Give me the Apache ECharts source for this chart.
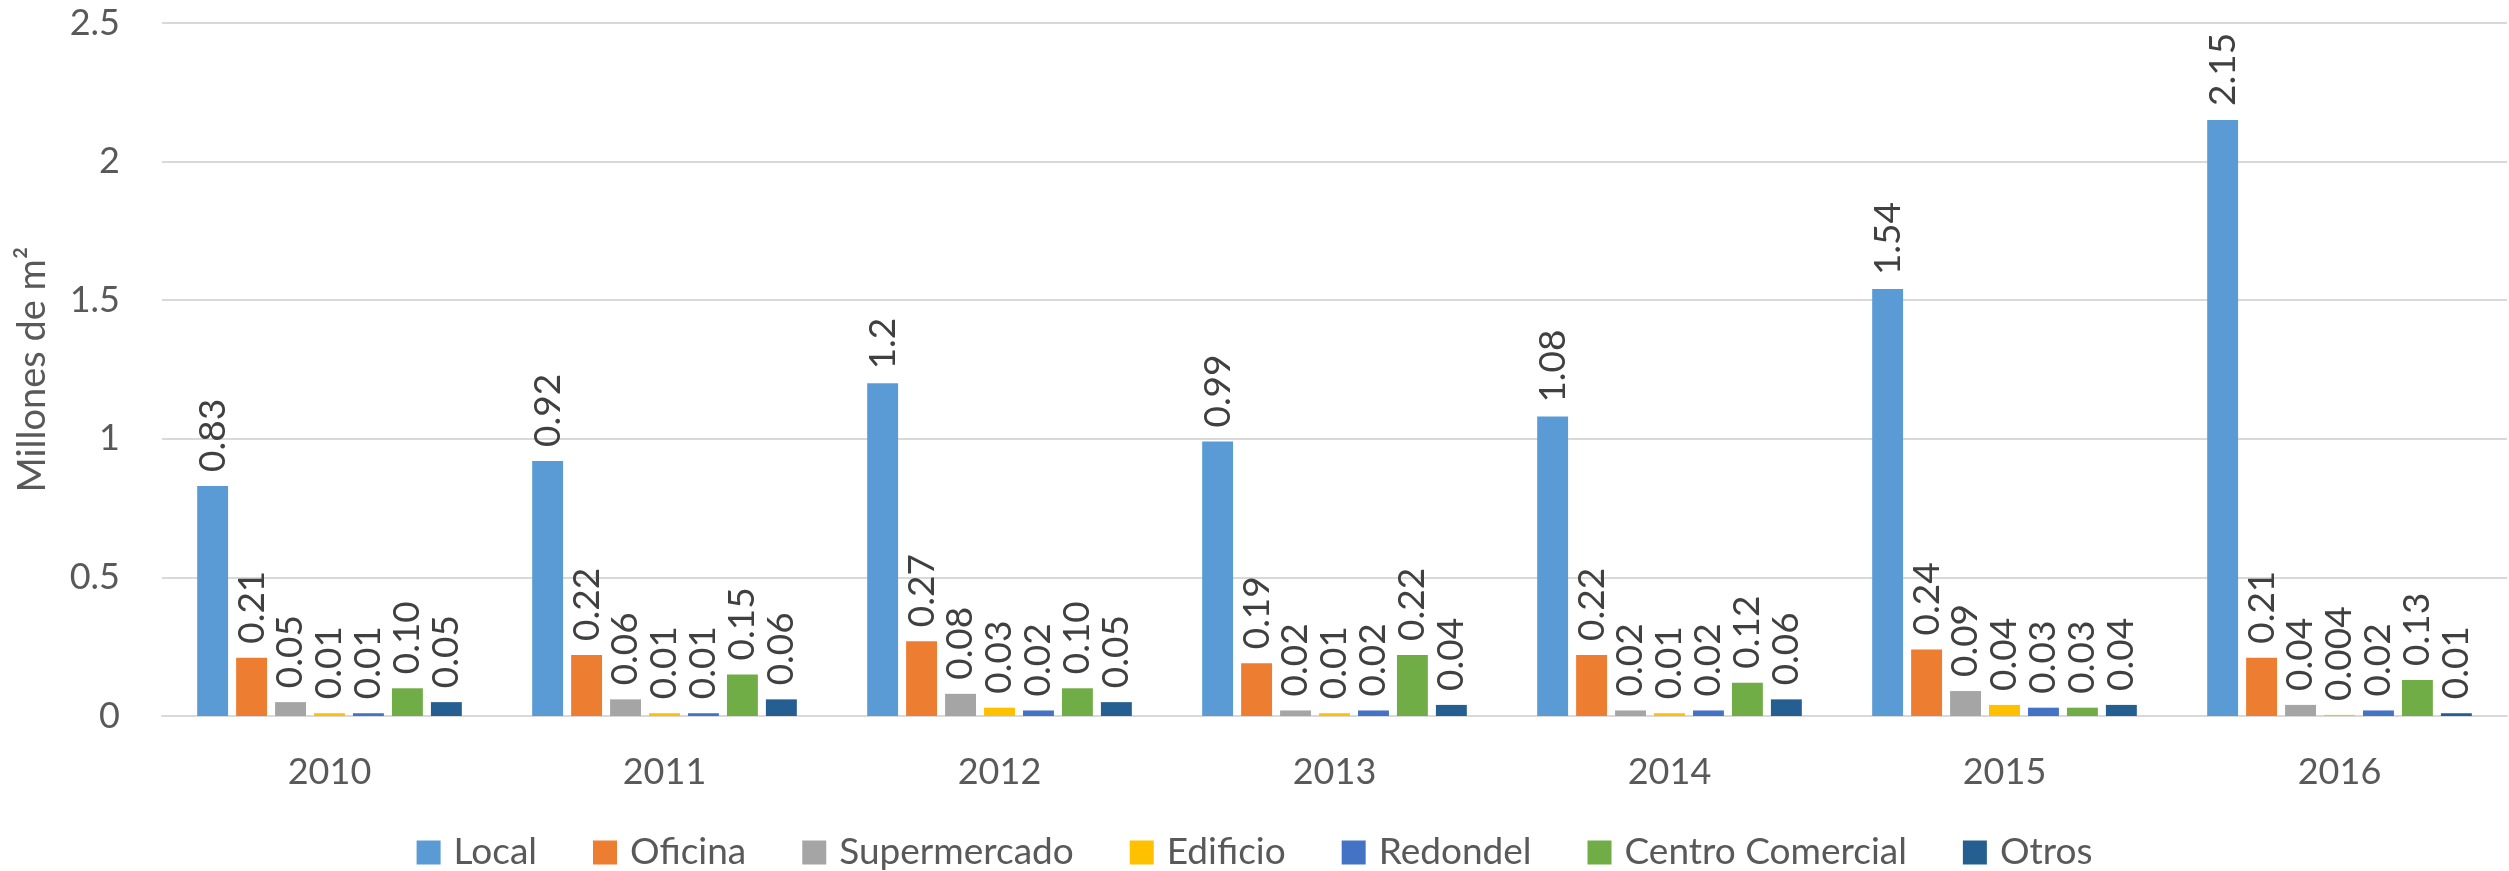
<!DOCTYPE html>
<html>
<head>
<meta charset="utf-8">
<script src="https://cdn.jsdelivr.net/npm/echarts@6/dist/echarts.min.js"></script>
<style>
html,body{margin:0;padding:0;background:#fff;}
#chart{width:2509px;height:871px;}
</style>
</head>
<body>
<div id="chart"></div>
<script>
const years = ['2010','2011','2012','2013','2014','2015','2016'];
const seriesNames = ['Local','Oficina','Supermercado','Edificio','Redondel','Centro Comercial','Otros'];
const local = [0.83, 0.92, 1.2, 0.99, 1.08, 1.54, 2.15];
const oficina = [0.21, 0.22, 0.27, 0.19, 0.22, 0.24, 0.21];
const supermercado = [0.05, 0.06, 0.08, 0.02, 0.02, 0.09, 0.04];
const edificio = [0.01, 0.01, 0.03, 0.01, 0.01, 0.04, 0.004];
const redondel = [0.01, 0.01, 0.02, 0.02, 0.02, 0.03, 0.02];
const centroComercial = [0.10, 0.15, 0.10, 0.22, 0.12, 0.03, 0.13];
const otros = [0.05, 0.06, 0.05, 0.04, 0.06, 0.04, 0.01];
const yTicks = [0, 0.5, 1, 1.5, 2, 2.5];

const allData = [local, oficina, supermercado, edificio, redondel, centroComercial, otros];
const colors = ['#5B9BD5','#ED7D31','#A5A5A5','#FFC000','#4472C4','#70AD47','#255E91'];
const FONT = 'Lato, "Open Sans", sans-serif';

function fmt(p) {
  const v = p.value;
  if (p.seriesIndex === 0) return String(v);
  if (v < 0.01) return String(v);
  return v.toFixed(2);
}

const chart = echarts.init(document.getElementById('chart'), null, {renderer: 'canvas'});
chart.setOption({
  animation: false,
  color: colors,
  grid: {left: 162, right: 2, top: 23, bottom: 155, containLabel: false},
  legend: {
    data: seriesNames,
    left: 'center',
    top: 829,
    itemWidth: 24,
    itemHeight: 24,
    itemGap: 56,
    icon: 'rect',
    textStyle: {fontFamily: FONT, fontSize: 37, color: '#595959', padding: [0,0,0,8]}
  },
  xAxis: {
    type: 'category',
    data: years,
    axisLine: {lineStyle: {color: '#D9D9D9', width: 2}},
    axisTick: {show: false},
    axisLabel: {fontFamily: FONT, fontSize: 36, color: '#595959', margin: 38}
  },
  yAxis: {
    type: 'value',
    min: yTicks[0],
    max: yTicks[yTicks.length - 1],
    interval: yTicks[1] - yTicks[0],
    name: 'Millones de m²',
    nameLocation: 'middle',
    nameGap: 110,
    nameTextStyle: {fontFamily: FONT, fontSize: 38, color: '#595959'},
    axisLine: {show: false},
    axisTick: {show: false},
    splitLine: {lineStyle: {color: '#D9D9D9', width: 2}},
    axisLabel: {fontFamily: FONT, fontSize: 36, color: '#595959', margin: 42}
  },
  series: seriesNames.map((name, i) => ({
    name: name,
    type: 'bar',
    data: allData[i],
    barGap: '26%',
    barCategoryGap: '21%',
    itemStyle: {color: colors[i]},
    label: {
      show: true,
      position: 'top',
      rotate: 90,
      align: 'left',
      verticalAlign: 'middle',
      distance: 14,
      fontFamily: FONT,
      fontSize: 37,
      color: '#404040',
      formatter: fmt
    }
  }))
});
</script>
</body>
</html>
